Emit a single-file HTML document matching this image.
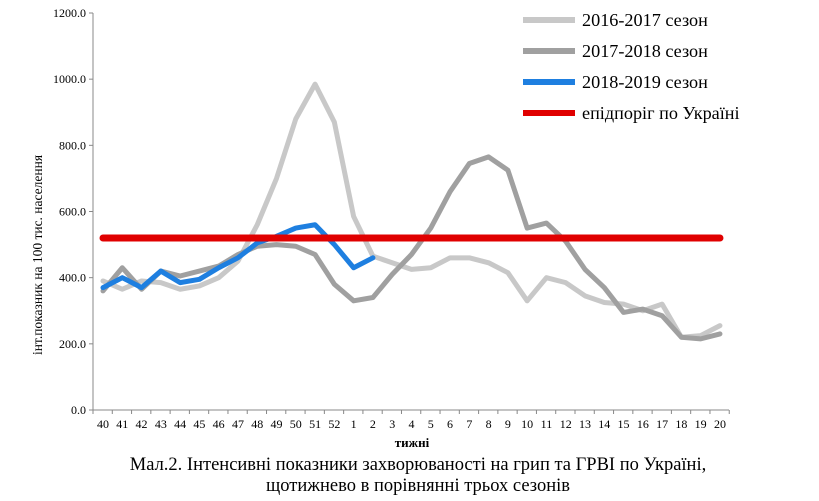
<!DOCTYPE html>
<html><head><meta charset="utf-8"><style>
body{margin:0;background:#fff;}
svg{display:block;font-family:"Liberation Serif",serif;}
text{font-family:"Liberation Serif",serif;}
</style></head><body>
<svg id="s" width="819" height="501" xmlns="http://www.w3.org/2000/svg">
<line x1="93" y1="13" x2="93" y2="410" stroke="#888" stroke-width="1"/>
<line x1="93" y1="410" x2="729" y2="410" stroke="#888" stroke-width="1"/>
<g id="ticks"></g>
<g id="lines" fill="none" stroke-linejoin="round" stroke-linecap="round"></g>
<text x="38" y="259" font-size="13.5" text-anchor="middle" transform="rotate(-90 38 255)">інт.показник на 100 тис. населення</text>
<text x="412" y="447" font-size="13" font-weight="bold" text-anchor="middle">тижні</text>
<text x="418" y="470" font-size="18.5" text-anchor="middle">Мал.2. Інтенсивні показники захворюваності на грип та ГРВІ по Україні,</text>
<text x="418" y="491" font-size="18.5" text-anchor="middle">щотижнево в порівнянні трьох сезонів</text>
<g font-size="18.2">
<line x1="523" y1="20" x2="575" y2="20" stroke="#c8c8c8" stroke-width="6"/><text x="582" y="26">2016-2017 сезон</text>
<line x1="523" y1="51" x2="575" y2="51" stroke="#a0a0a0" stroke-width="6"/><text x="582" y="57">2017-2018 сезон</text>
<line x1="523" y1="82" x2="575" y2="82" stroke="#1e7fe0" stroke-width="6"/><text x="582" y="88">2018-2019 сезон</text>
<line x1="523" y1="113" x2="575" y2="113" stroke="#e00000" stroke-width="6"/><text x="582" y="119">епідпоріг по Україні</text>
</g>
</svg>
<script>
const NS="http://www.w3.org/2000/svg";
const s=document.getElementById('s'),tk=document.getElementById('ticks'),ln=document.getElementById('lines');
const Y=v=>410-v*397/1200, X=i=>103+i*19.28;
function el(t,a,p,txt){const e=document.createElementNS(NS,t);for(const k in a)e.setAttribute(k,a[k]);if(txt!=null)e.textContent=txt;p.appendChild(e);return e;}
for(let v=0;v<=1200;v+=200){el('line',{x1:89,x2:93,y1:Y(v),y2:Y(v),stroke:'#888'},tk);el('text',{x:86,y:Y(v)+4,'font-size':12,'text-anchor':'end'},tk,v.toFixed(1));}
const labs=[];for(let i=40;i<=52;i++)labs.push(i);for(let i=1;i<=20;i++)labs.push(i);
for(let i=0;i<=33;i++){const x=93+i*19.28;el('line',{x1:x,x2:x,y1:410,y2:414,stroke:'#888'},tk);}
labs.forEach((l,i)=>el('text',{x:X(i),y:428,'font-size':12,'text-anchor':'middle'},tk,l));
const A=[390,365,390,385,365,375,400,450,560,700,880,985,870,585,465,445,425,430,460,460,445,415,330,400,385,345,325,320,300,320,220,225,255];
const B=[360,430,365,420,405,420,435,470,495,500,495,470,380,330,340,410,470,550,660,745,765,725,550,565,510,425,370,295,305,285,220,215,230];
const C=[370,400,370,420,385,395,430,460,505,525,550,560,500,430,460];
function pl(d,c){el('polyline',{points:d.map((v,i)=>X(i)+','+Y(v)).join(' '),stroke:c,'stroke-width':5},ln);}
pl(A,'#c8c8c8');pl(B,'#a0a0a0');pl(C,'#1e7fe0');
el('line',{x1:X(0),x2:X(32),y1:Y(520),y2:Y(520),stroke:'#e00000','stroke-width':7},ln);
</script>
</body></html>
